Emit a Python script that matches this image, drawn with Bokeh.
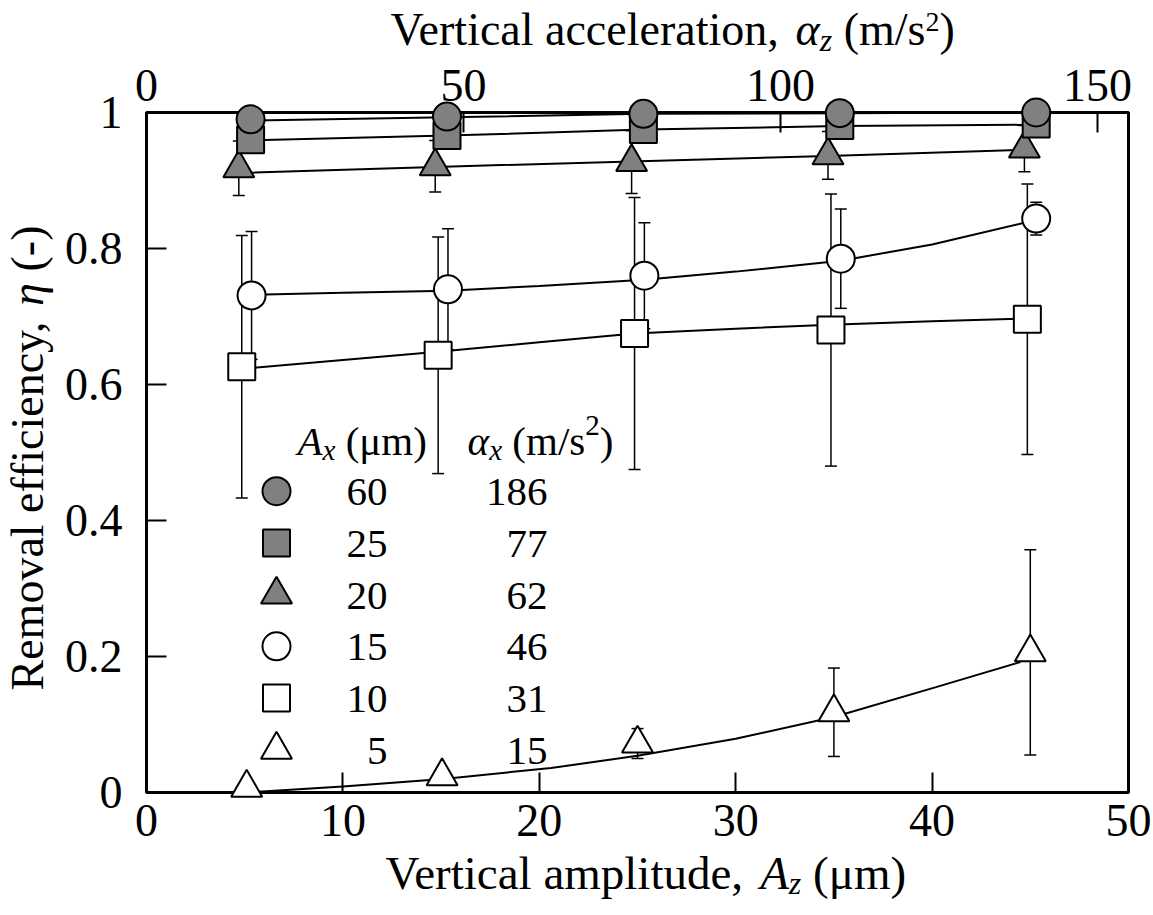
import math
from bokeh.plotting import figure
from bokeh.models import Range1d, LinearAxis, FixedTicker
from bokeh.core.properties import value
from bokeh.embed import file_html
from bokeh.resources import INLINE

# ---------------- data ----------------
x_ticks = [0, 10, 20, 30, 40, 50]
y_ticks = [0, 0.2, 0.4, 0.6, 0.8, 1.0]
y_tick_labels = ["0", "0.2", "0.4", "0.6", "0.8", "1"]
top_ticks = [0, 50, 100, 150]

legend_amp = ["60", "25", "20", "15", "10", "5"]      # A_x (um)
legend_acc = ["186", "77", "62", "46", "31", "15"]    # alpha_x (m/s2)

# filled circle (A_x = 60)
fc_x = [5.3, 15.3, 25.3, 35.3, 45.3]
fc_y = [0.990, 0.994, 0.998, 0.999, 1.000]
fc_err = [0.0, 0.0, 0.0, 0.0, 0.0]
fc_fit = [0.988, 0.993, 0.998, 0.999, 1.000]
# filled square (A_x = 25)
fs_x = [5.3, 15.3, 25.3, 35.3, 45.3]
fs_y = [0.960, 0.966, 0.975, 0.981, 0.983]
fs_err = [0.004, 0.004, 0.004, 0.004, 0.004]
fs_fit = [0.959, 0.966, 0.975, 0.980, 0.982]
# filled triangle (A_x = 20)
ft_x = [4.7, 14.7, 24.7, 34.7, 44.7]
ft_y = [0.918, 0.921, 0.927, 0.937, 0.947]
ft_err = [0.040, 0.038, 0.046, 0.035, 0.034]
ft_fit = [0.911, 0.920, 0.928, 0.936, 0.945]
# open circle (A_x = 15)
oc_x = [5.35, 15.35, 25.35, 35.35, 45.3]
oc_y = [0.731, 0.740, 0.760, 0.785, 0.844]
oc_err = [0.094, 0.089, 0.078, 0.073, 0.024]
oc_fit_x = [5.35, 10, 15.35, 20, 25.35, 30, 35.35, 40, 45.3]
oc_fit_y = [0.732, 0.735, 0.738, 0.745, 0.754, 0.766, 0.782, 0.806, 0.842]
# open square (A_x = 10)
os_x = [4.85, 14.85, 24.85, 34.85, 44.85]
os_y = [0.626, 0.643, 0.675, 0.680, 0.696]
os_err = [0.193, 0.174, 0.200, 0.200, 0.199]
os_fit_x = [4.85, 10, 14.85, 20, 24.85, 30, 34.85, 40, 44.85]
os_fit_y = [0.623, 0.636, 0.648, 0.662, 0.675, 0.682, 0.688, 0.693, 0.697]
# open triangle (A_x = 5)
ot_x = [5.1, 15.05, 25.0, 35.0, 45.0]
ot_y = [0.007, 0.024, 0.072, 0.118, 0.206]
ot_err_up = [0.0, 0.0, 0.022, 0.065, 0.151]
ot_err_lo = [0.0, 0.0, 0.022, 0.065, 0.151]
ot_fit_x = [5.1, 10, 15.1, 20.6, 25, 30, 35, 40.2, 44.5]
ot_fit_y = [0.0, 0.009, 0.020, 0.036, 0.054, 0.079, 0.111, 0.155, 0.192]

FONT = "Liberation Serif"
GRAY = "#808080"

# ---------------- figure ----------------
W, H = 1153, 915
FL, FT = 146, 112
FW, FH = 982, 680
FR, FB = W - FL - FW, H - FT - FH
p = figure(width=W, height=H, x_range=Range1d(0, 50), y_range=Range1d(0, 1),
           output_backend="svg", toolbar_location=None,
           min_border_left=FL, min_border_right=FR, min_border_top=FT, min_border_bottom=FB)
p.grid.visible = False
p.outline_line_color = "black"
p.outline_line_width = 3
p.background_fill_color = "white"
p.border_fill_color = "white"

xb = p.below[0]
yl = p.left[0]

p.extra_x_ranges = {"acc": Range1d(0, 150 * FW / (1097 - FL))}
top = LinearAxis(x_range_name="acc", ticker=FixedTicker(ticks=top_ticks))
p.add_layout(top, "above")

xb.ticker = FixedTicker(ticks=x_ticks)
yl.ticker = FixedTicker(ticks=y_ticks)
yl.major_label_overrides = {t: l for t, l in zip(y_ticks, y_tick_labels)}

for ax in [xb, yl, top]:
    ax.axis_line_width = 3
    ax.axis_line_color = "black"
    ax.major_tick_line_width = 2
    ax.major_tick_line_color = "black"
    ax.major_tick_in = 20
    ax.major_tick_out = 0
    ax.minor_tick_line_color = None
    ax.major_label_text_font = FONT
    ax.major_label_text_font_size = "46px"
    ax.major_label_text_color = "black"

xb.major_label_standoff = 12
top.major_label_standoff = 12
yl.major_label_standoff = 24


# pixel (screenshot) -> data helpers for annotation placement
def dx(px):
    return (px - FL) / FW * 50


def dy(py):
    return (FT + FH - py) / FH


# ---------------- fit lines ----------------
LW = 2
p.line(fc_x, fc_fit, line_color="black", line_width=LW)
p.line(fs_x, fs_fit, line_color="black", line_width=LW)
p.line(ft_x, ft_fit, line_color="black", line_width=LW)
p.line(oc_fit_x, oc_fit_y, line_color="black", line_width=LW)
p.line(os_fit_x, os_fit_y, line_color="black", line_width=LW)
p.line(ot_fit_x, ot_fit_y, line_color="black", line_width=LW)


# ---------------- error bars ----------------
def errbars(xs, ys, up, lo):
    x0, y0, y1, cx, cy = [], [], [], [], []
    for x, y, u, l in zip(xs, ys, up, lo):
        if u <= 0 and l <= 0:
            continue
        x0.append(x)
        y0.append(y - l)
        y1.append(y + u)
        cx += [x, x]
        cy += [y - l, y + u]
    if x0:
        p.segment(x0=x0, y0=y0, x1=x0, y1=y1, line_color="black", line_width=1.5)
        p.scatter(cx, cy, marker="dash", size=12, line_color="black", line_width=1.5)


errbars(fc_x, fc_y, fc_err, fc_err)
errbars(fs_x, fs_y, fs_err, fs_err)
errbars(ft_x, ft_y, ft_err, ft_err)
errbars(oc_x, oc_y, oc_err, oc_err)
errbars(os_x, os_y, os_err, os_err)
errbars(ot_x, ot_y, ot_err_up, ot_err_lo)

# ---------------- markers ----------------
MK = dict(line_color="black", line_width=2, level="annotation")
p.scatter(ot_x, ot_y, marker="triangle", size=31, fill_color="white", **MK)
p.scatter(os_x, os_y, marker="square", size=27, fill_color="white", **MK)
p.scatter(oc_x, oc_y, marker="circle", size=28, fill_color="white", **MK)
p.scatter(ft_x, ft_y, marker="triangle", size=31, fill_color=GRAY, **MK)
p.scatter(fs_x, fs_y, marker="square", size=27, fill_color=GRAY, **MK)
p.scatter(fc_x, fc_y, marker="circle", size=28, fill_color=GRAY, **MK)

# ---------------- rich text helper ----------------
W_REG = {' ': 250, '(': 333, ')': 333, '-': 333, ',': 250, '/': 278, 'a': 444, 'c': 444, 'd': 500,
         'e': 444, 'f': 333, 'i': 278, 'l': 278, 'm': 778, 'n': 500, 'o': 500, 'p': 500, 'r': 333,
         's': 389, 't': 278, 'u': 500, 'v': 500, 'y': 500, 'z': 444, 'R': 667, 'V': 722, 'A': 722,
         'μ': 536}
W_IT = {'A': 611, 'x': 444, 'z': 389, 'α': 530, 'η': 500}
ADJ = 13   # renderer baseline offset correction (px)


def tw(txt, style, size):
    tab = W_IT if style == "italic" else W_REG
    return sum(tab.get(ch, 500) for ch in txt) / 1000 * size


def put_text(px, py, txt, style, size, align="left", angle=0.0):
    p.text(x=[dx(px)], y=[dy(py)], text=[txt], text_font=value(FONT),
           text_font_style=style, text_font_size=value(f"{size}px"),
           text_baseline="alphabetic", text_align=align, text_color="black",
           angle=angle, level="annotation")


def rich(runs, start, base, vertical=False):
    pos = start
    for txt, style, size, shift in runs:
        lead = len(txt) - len(txt.lstrip(" "))
        pos += (-1 if vertical else 1) * tw(" " * lead, style, size)
        body = txt.strip(" ")
        if vertical:
            put_text(base + shift - ADJ, pos, body, style, size, angle=math.pi / 2)
            pos -= tw(body, style, size)
        else:
            put_text(pos, base + shift - ADJ, body, style, size)
            pos += tw(body, style, size)
        trail = len(txt) - len(txt.rstrip(" "))
        pos += (-1 if vertical else 1) * tw(" " * trail, style, size)


FS = 46
SUB = 32
# bottom axis title
rich([("Vertical amplitude, ", "normal", 47, 0), ("A", "italic", 47, 0),
      ("z", "italic", SUB, 10), (" (μm)", "normal", 47, 0)], 385, 885)
# top axis title
rich([("Vertical acceleration, ", "normal", FS, 0), ("α", "italic", FS, 0),
      ("z", "italic", SUB, 10), (" (m/s", "normal", FS, 0), ("2", "normal", 28, -8),
      (")", "normal", FS, 0)], 390, 42)
# left axis title (rotated)
rich([("Removal efficiency, ", "normal", FS, 0), ("η", "italic", FS, 0),
      (" (-)", "normal", FS, 0)], 690, 40, vertical=True)

# ---------------- legend table ----------------
LF = 41
LSUB = 29
rich([("A", "italic", LF, 0), ("x", "italic", LSUB, 9), (" (μm)", "normal", LF, 0)], 297, 453)
rich([("α", "italic", LF, 0), ("x", "italic", LSUB, 9), (" (m/s", "normal", LF, 0),
      ("2", "normal", LSUB, -15), (")", "normal", LF, 0)], 467, 453)

leg_markers = ["circle", "square", "triangle", "circle", "square", "triangle"]
leg_sizes = [28, 27, 31, 28, 27, 31]
leg_fill = [GRAY, GRAY, GRAY, "white", "white", "white"]
row_py = [490.7 + i * 51.7 for i in range(6)]
for i in range(6):
    p.scatter([dx(276)], [dy(row_py[i])], marker=leg_markers[i], size=leg_sizes[i],
              fill_color=leg_fill[i], **MK)
    put_text(387, row_py[i] + 14 - ADJ, legend_amp[i], "normal", LF, align="right")
    put_text(547, row_py[i] + 14 - ADJ, legend_acc[i], "normal", LF, align="right")

open("out.html", "w").write(file_html(p, INLINE))
